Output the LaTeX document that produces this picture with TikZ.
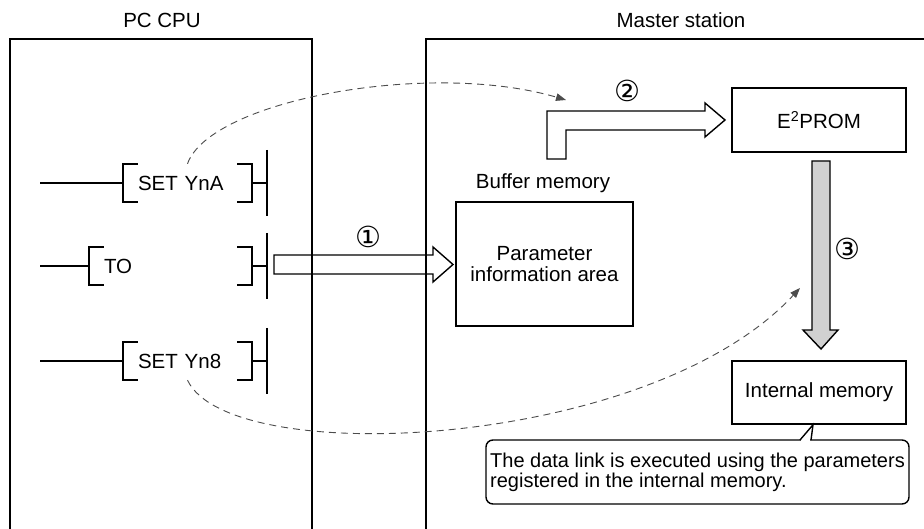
\documentclass[tikz,border=0pt]{standalone}
\usepackage{fontspec}
\setmainfont{Liberation Sans}
\newfontfamily\circfont{DejaVu Sans}
\usetikzlibrary{backgrounds,arrows.meta}
\newcommand{\circnum}[1]{%
    {\circfont\fontsize{29}{29}\selectfont #1}\ignorespaces
}

\begin{document}
\begin{tikzpicture}[x=1pt, y=-1pt, background rectangle/.style={fill=white}, show background rectangle, inner frame sep=0pt,
    every node/.style={font=\fontsize{20.5}{20.5}\selectfont},
    panel/.style={line width=1.6pt},
    rung/.style={line width=2.2pt},
    instr/.style={minimum height=38, inner xsep=15, inner ysep=0, align=left},
    unit/.style={draw, line width=1.6pt, minimum width=174, minimum height=64},
    bigarrow/.style={draw, line width=1.4pt, line join=miter},
    link/.style={draw=black!70, line width=0.9pt, dash pattern=on 7pt off 5pt, -{Triangle[length=10pt,width=7.5pt]}}]
    \useasboundingbox (0,0) rectangle (924,529);

    % PC CPU side
    \node (cpulabel) at (162,20) {PC CPU};
    \draw[panel] (10,529) |- (312,39) -- (312,529);

    % ladder program
    \coordinate (rail) at (40,0);
    \coordinate (bus) at (267,0);
    \node[instr, text width=99] (setYnA) at (187.5,183) {SET YnA};
    \node[instr, text width=133] (toinstr) at (170.5,266) {TO};
    \node[instr, text width=99] (setYn8) at (187.5,361) {SET Yn8};
    \foreach \n in {setYnA, toinstr, setYn8} {
        \draw[rung] ([xshift=15]\n.north west) -| (\n.south west) -- ++(15,0);
        \draw[rung] ([xshift=-15]\n.north east) -| (\n.south east) -- ++(-15,0);
        \draw[rung] (rail |- \n.west) -- (\n.west);
        \draw[rung] (\n.east) -- (bus |- \n.east);
        \draw[rung] (bus |- \n.east) ++(0,-33) -- ++(0,66);
    }

    % Master station side
    \node (masterlabel) at (681,20) {Master station};
    \draw[panel] (426,529) |- (924,39);
    \node[unit, minimum width=177, minimum height=124, align=center] (paramarea) at (544.5,264) {Parameter\\information area};
    \node (buflabel) at (543,183) {Buffer memory};
    \node[unit] (e2prom) at (819,120) {E\textsuperscript{2}PROM};
    \node[unit, minimum height=63] (intmem) at (819,392.5) {Internal memory};

    % transfer arrows
    \draw[bigarrow] (274,255) -- (433,255) -- (433,247) -- (453,264.5) -- (433,282) -- (433,274) -- (274,274) -- cycle;
    \node (step1) at (368,237) {\circnum{①}};
    \draw[bigarrow] (547,159) -- (547,111) -- (705,111) -- (705,103) -- (725,120) -- (705,137) -- (705,130) -- (566,130) -- (566,159) -- cycle;
    \node (step2) at (627,91) {\circnum{②}};
    \draw[bigarrow, fill=black!18] (812,161) -- (830,161) -- (830,330) -- (838,330) -- (821,349) -- (803,330) -- (812,330) -- cycle;
    \node (step3) at (847,249) {\circnum{③}};

    % signals from the program
    \coordinate (writeend) at (566,100);
    \coordinate (linkend) at (800,288);
    \draw[link] (setYnA.north) .. controls (210,100) and (430,60) .. (writeend);
    \draw[link] (setYn8.south) .. controls (230,470) and (650,450) .. (linkend);

    % note on the internal memory
    \node[draw, rounded corners=7, line width=1.4pt, minimum width=423, minimum height=64, align=left, font=\fontsize{20}{20}\selectfont] (note) at (697.5,472) {The data link is executed using the parameters\\registered in the internal memory.};
    \coordinate (tip) at ([xshift=-6]intmem.south);
    \draw[white, line width=2pt] (801,440) -- (810,440);
    \draw[line width=1.4pt] (800,440) -- (tip) -- (811,440);
\end{tikzpicture}
\end{document}
